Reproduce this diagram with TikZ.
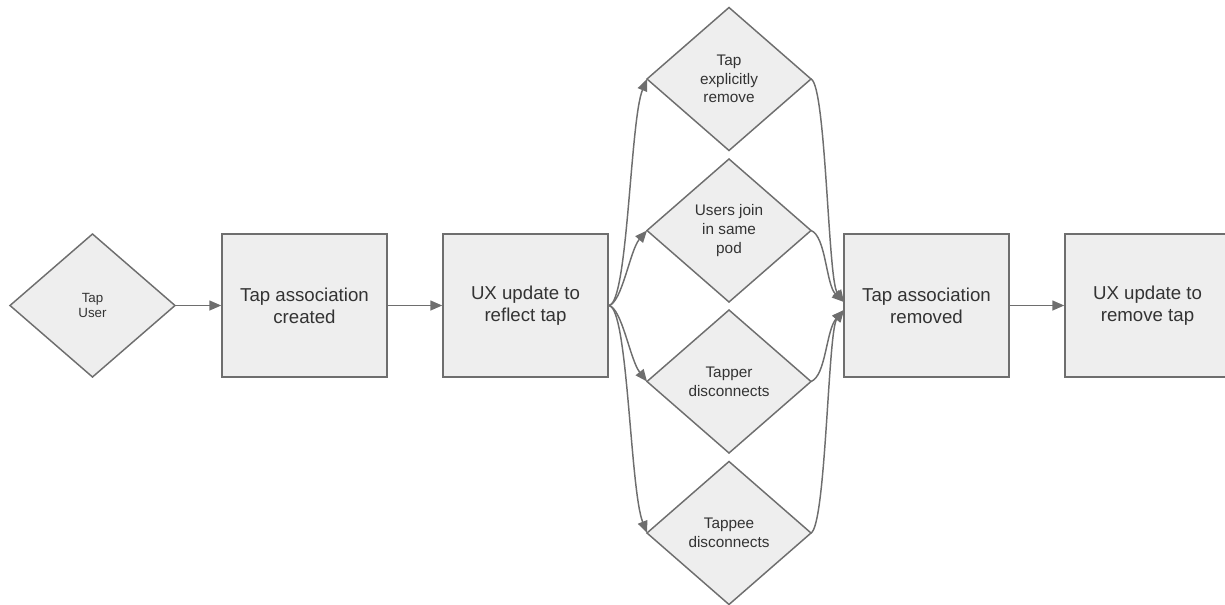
\documentclass[tikz,border=0pt]{standalone}
\usepackage{fontspec}
\setmainfont{Liberation Sans}
\usetikzlibrary{shapes.geometric,arrows.meta}
\definecolor{fillg}{HTML}{EEEEEE}
\definecolor{lineg}{HTML}{6E6E6E}
\definecolor{textg}{HTML}{333333}
\tikzset{
  boxnode/.style={draw=lineg, line width=1.1pt, fill=fillg, minimum width=165*0.75pt, minimum height=143*0.75pt, inner sep=0pt, align=center, text=textg, font=\fontsize{14}{16.3}\selectfont},
  decnode/.style={draw=lineg, line width=1.1pt, fill=fillg, inner sep=0pt, align=center, text=textg, font=\fontsize{11.5}{14}\selectfont},
  conn/.style={draw=lineg, line width=1.1pt, -{Triangle[length=9pt,width=7.5pt]}},
}
\newcommand{\dia}[4]{% name, cx, cy, text
  \path[decnode] (#2-82,#3) -- (#2,#3-71.5) -- (#2+82,#3) -- (#2,#3+71.5) -- cycle;
  \node[font=\fontsize{11.5}{14}\selectfont, text=textg, align=center] (#1) at (#2,#3) {#4};
  \coordinate (#1w) at (#2-82,#3);
  \coordinate (#1e) at (#2+82,#3);
}
\begin{document}
\begin{tikzpicture}[x=0.75pt,y=-0.75pt]
\useasboundingbox (0,0) rectangle (1225,604);
\clip (0,0) rectangle (1225,604);
% start diamond
\path[decnode] (10,305.5) -- (92.5,234) -- (175,305.5) -- (92.5,377) -- cycle;
\node[font=\fontsize{10}{11.5}\selectfont, text=textg, align=center] (tu) at (92.5,305.5) {Tap\\User};
\coordinate (tue) at (175,305.5);
% boxes
\node[boxnode] (b1) at (304.5,305.5) {Tap association\\created};
\node[boxnode] (b2) at (525.5,305.5) {UX update to\\reflect tap};
\node[boxnode] (b3) at (926.5,305.5) {Tap association\\removed};
\node[boxnode] (b4) at (1147.5,305.5) {UX update to\\remove tap};
% decision column
\dia{d1}{729}{79}{Tap\\explicitly\\remove}
\dia{d2}{729}{230.5}{Users join\\in same\\pod}
\dia{d3}{729}{381.5}{Tapper\\disconnects}
\dia{d4}{729}{533}{Tappee\\disconnects}
\coordinate (b3a) at (844,302);
\coordinate (b3b) at (844,310);
% connectors
\draw[conn] (tue) -- (b1.west);
\draw[conn] (b1.east) -- (b2.west);
\draw[conn] (b3.east) -- (b4.west);
\draw[conn] (b2.east) .. controls (628,305) and (630,120) .. (d1w);
\draw[conn] (b2.east) .. controls (622,303) and (630,250) .. (d2w);
\draw[conn] (b2.east) .. controls (622,308) and (630,360) .. (d3w);
\draw[conn] (b2.east) .. controls (628,306) and (630,490) .. (d4w);
\draw[conn] (d1e) .. controls (826,85) and (828,280) .. (b3a);
\draw[conn] (d2e) .. controls (826,236) and (826,285) .. (b3a);
\draw[conn] (d3e) .. controls (826,376) and (826,330) .. (b3b);
\draw[conn] (d4e) .. controls (826,525) and (828,330) .. (b3b);
\end{tikzpicture}
\end{document}
